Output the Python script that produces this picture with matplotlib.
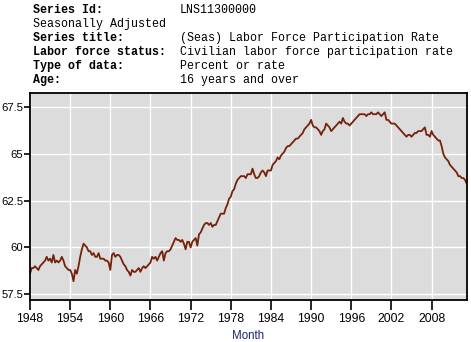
import numpy as np
import matplotlib
matplotlib.use("Agg")
import matplotlib.pyplot as plt

# Civilian labor force participation rate, 16 years and over (quarterly readings)
start_year = 1948
rate = [
    58.6, 58.9, 58.9, 59.0,   # 1948
    58.9, 58.8, 59.0, 59.1,   # 1949
    59.2, 59.3, 59.5, 59.3,   # 1950
    59.4, 59.2, 59.6, 59.2,   # 1951
    59.3, 59.2, 59.3, 59.5,   # 1952
    59.3, 59.0, 58.9, 58.8,   # 1953
    58.8, 58.6, 58.2, 58.8,   # 1954
    58.6, 59.0, 59.5, 59.9,   # 1955
    60.2, 60.1, 60.0, 59.8,   # 1956
    59.8, 59.6, 59.7, 59.5,   # 1957
    59.5, 59.7, 59.4, 59.4,   # 1958
    59.4, 59.3, 59.3, 59.2,   # 1959
    58.8, 59.6, 59.7, 59.5,   # 1960
    59.6, 59.6, 59.5, 59.3,   # 1961
    59.1, 59.0, 58.8, 58.7,   # 1962
    58.5, 58.8, 58.7, 58.7,   # 1963
    58.8, 58.9, 58.7, 58.9,   # 1964
    59.0, 58.9, 59.0, 59.1,   # 1965
    59.2, 59.5, 59.4, 59.5,   # 1966
    59.3, 59.5, 59.7, 59.8,   # 1967
    59.3, 59.7, 59.8, 59.8,   # 1968
    59.9, 60.1, 60.3, 60.5,   # 1969
    60.4, 60.4, 60.3, 60.4,   # 1970
    60.2, 59.9, 60.3, 60.3,   # 1971
    60.0, 60.3, 60.4, 60.5,   # 1972
    60.1, 60.7, 60.8, 61.0,   # 1973
    61.2, 61.3, 61.3, 61.2,   # 1974
    61.3, 61.1, 61.2, 61.2,   # 1975
    61.4, 61.6, 61.8, 61.8,   # 1976
    61.8, 62.1, 62.3, 62.6,   # 1977
    62.7, 63.0, 63.1, 63.4,   # 1978
    63.6, 63.7, 63.8, 63.8,   # 1979
    63.8, 63.7, 63.9, 63.9,   # 1980
    63.9, 64.2, 63.9, 63.7,   # 1981
    63.7, 63.8, 64.0, 64.1,   # 1982
    64.0, 63.8, 64.1, 64.1,   # 1983
    64.1, 64.4, 64.5, 64.6,   # 1984
    64.8, 64.7, 64.9, 65.0,   # 1985
    65.1, 65.3, 65.4, 65.4,   # 1986
    65.5, 65.6, 65.7, 65.8,   # 1987
    65.8, 65.9, 66.0, 66.1,   # 1988
    66.3, 66.4, 66.5, 66.6,   # 1989
    66.8, 66.5, 66.4, 66.4,   # 1990
    66.3, 66.2, 66.0, 66.2,   # 1991
    66.3, 66.6, 66.5, 66.4,   # 1992
    66.2, 66.3, 66.4, 66.5,   # 1993
    66.6, 66.7, 66.6, 66.9,   # 1994
    66.7, 66.6, 66.6, 66.5,   # 1995
    66.6, 66.7, 66.8, 66.9,   # 1996
    67.0, 67.1, 67.1, 67.1,   # 1997
    67.1, 67.0, 67.1, 67.1,   # 1998
    67.2, 67.1, 67.1, 67.1,   # 1999
    67.2, 67.1, 67.0, 67.1,   # 2000
    67.2, 66.8, 66.8, 66.7,   # 2001
    66.6, 66.6, 66.6, 66.5,   # 2002
    66.4, 66.3, 66.2, 66.1,   # 2003
    66.0, 65.9, 66.0, 66.0,   # 2004
    65.9, 66.0, 66.1, 66.1,   # 2005
    66.2, 66.2, 66.2, 66.3,   # 2006
    66.4, 66.0, 66.0, 65.9,   # 2007
    66.2, 66.0, 65.9, 65.8,   # 2008
    65.7, 65.7, 65.4, 65.0,   # 2009
    64.8, 64.7, 64.6, 64.4,   # 2010
    64.3, 64.2, 64.1, 64.0,   # 2011
    63.8, 63.8, 63.7, 63.7,   # 2012
    63.6, 63.4,               # 2013
]
year_ticks = [1948, 1954, 1960, 1966, 1972, 1978, 1984, 1990, 1996, 2002, 2008]
rate_ticks = [57.5, 60, 62.5, 65, 67.5]
rate_tick_labels = ["57.5", "60", "62.5", "65", "67.5"]

header = [
    ("Series Id:", "LNS11300000"),
    ("Seasonally Adjusted", ""),
    ("Series title:", "(Seas) Labor Force Participation Rate"),
    ("Labor force status:", "Civilian labor force participation rate"),
    ("Type of data:", "Percent or rate"),
    ("Age:", "16 years and over"),
]

t = start_year + np.arange(len(rate)) / 4.0

W, H = 471, 342
fig = plt.figure(figsize=(W / 100, H / 100), dpi=100)
fig.patch.set_facecolor("white")

ax = fig.add_axes([30 / W, 1 - 300 / H, (466.7 - 30) / W, (300 - 93) / H])
ax.set_facecolor("#dcdcdc")
ax.plot(t, rate, color="#74220a", linewidth=1.3)

ax.set_xlim(start_year, t[-1])
ax.set_ylim(57.2, 68.23)
ax.set_xticks(year_ticks)
ax.set_xticklabels([str(y) for y in year_ticks], fontsize=8.7, family="Liberation Sans")
ax.set_yticks(rate_ticks)
ax.set_yticklabels(rate_tick_labels, fontsize=8.1, family="Liberation Sans")
ax.grid(True, color="white", linewidth=1.0)
ax.set_axisbelow(True)
ax.tick_params(axis="x", length=7, width=1.2, pad=2)
ax.tick_params(axis="y", length=4, width=1.2, pad=1)
for s in ax.spines.values():
    s.set_linewidth(1.3)
    s.set_color("black")

ax.set_xlabel("Month", fontsize=8.3, family="Liberation Sans", color="#1a2466", labelpad=4)

# Series description block
for i, (label, value) in enumerate(header):
    y = 1 - (10 + 14 * i) / H
    fig.text(33 / W, y, label, family="Liberation Mono", fontsize=8.4,
             fontweight="bold" if value or i == 0 else "normal",
             va="center", ha="left", color="black")
    if value:
        fig.text(180 / W, y, value, family="Liberation Mono", fontsize=8.4,
                 va="center", ha="left", color="black")

fig.savefig("out.png", dpi=100)
